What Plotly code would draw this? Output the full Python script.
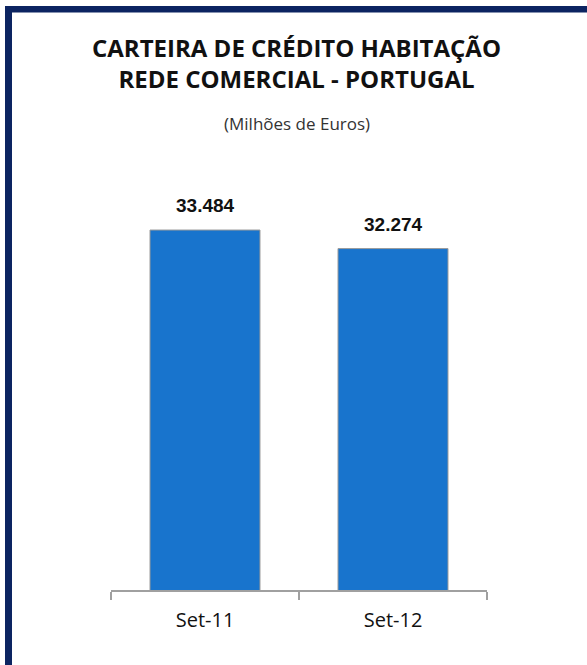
import plotly.graph_objects as go

categories = ["Set-11", "Set-12"]
values = [33484, 32274]
value_labels = ["33.484", "32.274"]

title_lines = ["CARTEIRA DE CRÉDITO HABITAÇÃO", "REDE COMERCIAL - PORTUGAL"]
subtitle_text = "(Milhões de Euros)"

W, H = 587, 665
L, R, T, B = 111, 100, 170, 75

def px_x(p):
    return (p - L) / (W - L - R)

def px_y(p):
    return (H - B - p) / (H - T - B)

fig = go.Figure()
fig.add_trace(go.Bar(
    x=categories, y=values, width=0.585,
    marker=dict(color="#1874CD", line=dict(color="#9A9A9A", width=1)),
    hoverinfo="skip",
))

for cat, val, lab in zip(categories, values, value_labels):
    fig.add_annotation(x=cat, y=val, text="<b>%s</b>" % lab, showarrow=False,
                       yanchor="bottom", yshift=12,
                       font=dict(family="Liberation Sans", size=19, color="#111111"))

navy = "#0C2461"
fig.add_shape(type="rect", xref="paper", yref="paper",
              x0=px_x(5), x1=px_x(12), y0=px_y(700), y1=px_y(6),
              fillcolor=navy, line_width=0, layer="above")
fig.add_shape(type="rect", xref="paper", yref="paper",
              x0=px_x(5), x1=px_x(620), y0=px_y(12.5), y1=px_y(6),
              fillcolor=navy, line_width=0, layer="above")

fig.add_annotation(text="<b>%s</b>" % "<br>".join(title_lines), xref="paper", yref="paper",
                   x=px_x(296), y=px_y(63), xanchor="center", yanchor="middle",
                   showarrow=False, align="center",
                   font=dict(family="Open Sans", size=24, color="#111111"))
fig.add_annotation(text=subtitle_text, xref="paper", yref="paper",
                   x=px_x(297), y=px_y(124), xanchor="center", yanchor="middle",
                   showarrow=False,
                   font=dict(family="Open Sans", size=17, color="#333333"))

fig.update_layout(
    width=W, height=H,
    margin=dict(l=L, r=R, t=T, b=B),
    paper_bgcolor="white", plot_bgcolor="white",
    showlegend=False,
)
fig.update_xaxes(type="category", showline=True, linecolor="#A0A0A0", linewidth=2,
                 ticks="outside", tickson="boundaries", ticklen=8, tickcolor="#A0A0A0",
                 tickwidth=2, showgrid=False, ticklabelstandoff=11,
                 tickfont=dict(family="Open Sans", size=20, color="#111111"))
fig.update_yaxes(range=[10000, 37400], visible=False, showgrid=False)

fig.write_html("out.html")
